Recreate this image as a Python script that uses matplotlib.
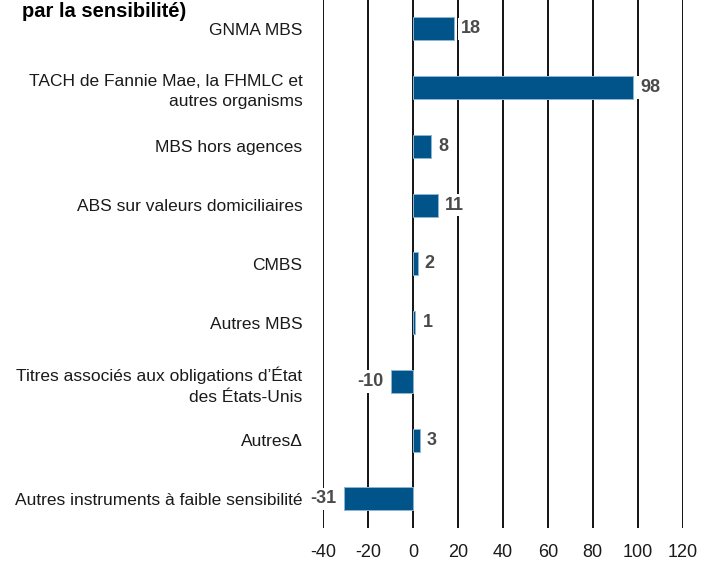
#!/usr/bin/env python3
"""Horizontal bar chart: sensibilité par catégorie de titres."""

import matplotlib
matplotlib.use("Agg")
import matplotlib.pyplot as plt

# --- DATA ---
CATEGORIES = [
    "GNMA MBS",
    "TACH de Fannie Mae, la FHMLC et\nautres organisms",
    "MBS hors agences",
    "ABS sur valeurs domiciliaires",
    "CMBS",
    "Autres MBS",
    "Titres associés aux obligations d\u2019État\ndes États-Unis",
    "Autres\u0394",
    "Autres instruments à faible sensibilité",
]
VALUES = [18, 98, 8, 11, 2, 1, -10, 3, -31]
XTICKS = [-40, -20, 0, 20, 40, 60, 80, 100, 120]
TITLE = "par la sensibilité)"

# --- STYLE ---
BAR_COLOR = "#00548A"
EDGE_COLOR = "#8DB6D4"
LABEL_COLOR = "#4A4A4A"
TEXT_COLOR = "#1A1A1A"

plt.rcParams["font.family"] = ["Liberation Sans", "DejaVu Sans"]

fig = plt.figure(figsize=(7.14, 5.66), dpi=100)
ax = fig.add_axes([0.453, 0.0676, 0.503, 0.9324])

ypos = list(range(len(CATEGORIES)))
ax.barh(ypos, VALUES, height=0.39, color=BAR_COLOR,
        edgecolor=EDGE_COLOR, linewidth=0.7, zorder=3)

# vertical grid lines
for xv in XTICKS:
    ax.axvline(xv, color="black", linewidth=1.3, zorder=1)

# value labels with white background
for y, v in zip(ypos, VALUES):
    off = 5 if v >= 0 else -5
    ha = "left" if v >= 0 else "right"
    ax.annotate(str(v), (v, y), xytext=(off, 0), textcoords="offset points",
                ha=ha, va="center", fontsize=13, fontweight="bold",
                color=LABEL_COLOR, zorder=4,
                bbox=dict(boxstyle="square,pad=0.15", fc="white", ec="none"))

ax.set_xlim(-40, 120)
ax.set_ylim(len(CATEGORIES) - 0.51, -0.49)
ax.set_xticks(XTICKS)
ax.set_xticklabels([str(t) for t in XTICKS], fontsize=13)
ax.set_yticks(ypos)
ax.set_yticklabels(CATEGORIES, ha="right", linespacing=1.45, fontsize=12.5)
ax.tick_params(axis="both", length=0, colors=TEXT_COLOR)
ax.tick_params(axis="y", pad=15)
ax.tick_params(axis="x", pad=12)
for s in ax.spines.values():
    s.set_visible(False)

fig.text(0.031, 0.979, TITLE, ha="left", va="center",
         fontsize=14.5, fontweight="bold", color="black")

fig.savefig("out.png", dpi=100)
